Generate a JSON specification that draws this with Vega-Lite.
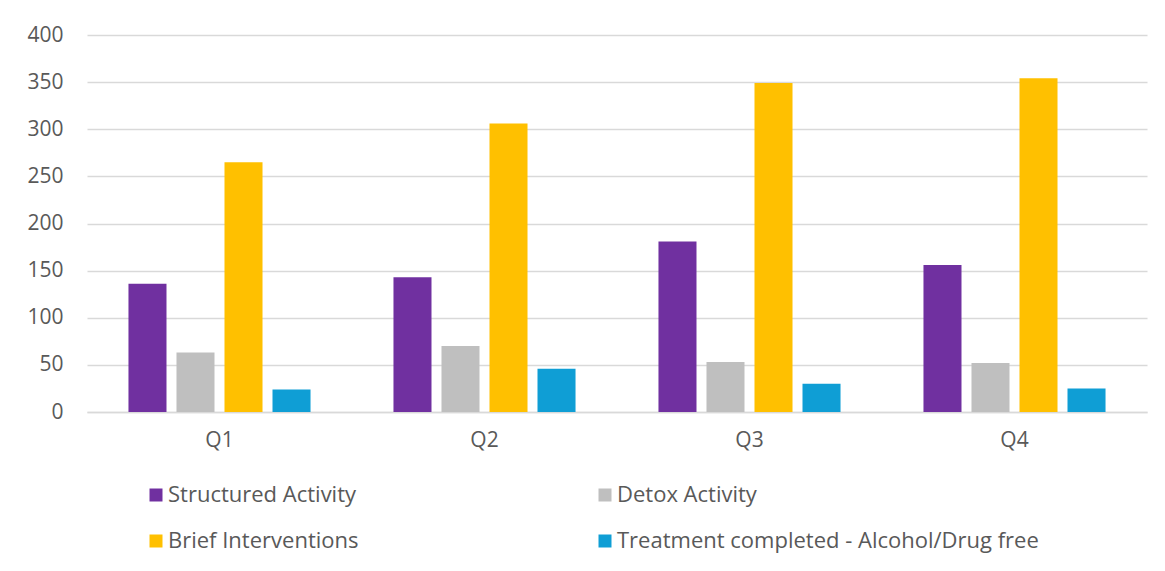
{
  "$schema": "https://vega.github.io/schema/vega-lite/v6.json",
  "autosize": {"type": "none"},
  "width": 1060,
  "height": 377,
  "padding": {"left": 87, "top": 35, "right": 18, "bottom": 159},
  "background": "white",
  "data": {
    "values": [
      {"quarter": "Q1", "series": "Structured Activity", "count": 136},
      {"quarter": "Q1", "series": "Detox Activity", "count": 63},
      {"quarter": "Q1", "series": "Brief Interventions", "count": 265},
      {"quarter": "Q1", "series": "Treatment completed - Alcohol/Drug free", "count": 24},
      {"quarter": "Q2", "series": "Structured Activity", "count": 143},
      {"quarter": "Q2", "series": "Detox Activity", "count": 70},
      {"quarter": "Q2", "series": "Brief Interventions", "count": 306},
      {"quarter": "Q2", "series": "Treatment completed - Alcohol/Drug free", "count": 46},
      {"quarter": "Q3", "series": "Structured Activity", "count": 181},
      {"quarter": "Q3", "series": "Detox Activity", "count": 53},
      {"quarter": "Q3", "series": "Brief Interventions", "count": 349},
      {"quarter": "Q3", "series": "Treatment completed - Alcohol/Drug free", "count": 30},
      {"quarter": "Q4", "series": "Structured Activity", "count": 156},
      {"quarter": "Q4", "series": "Detox Activity", "count": 52},
      {"quarter": "Q4", "series": "Brief Interventions", "count": 354},
      {"quarter": "Q4", "series": "Treatment completed - Alcohol/Drug free", "count": 25}
    ]
  },
  "mark": {"type": "bar"},
  "encoding": {
    "x": {
      "field": "quarter",
      "type": "nominal",
      "title": null,
      "scale": {"paddingInner": 0.313, "paddingOuter": 0.1565},
      "axis": {
        "labelAngle": 0,
        "labelFont": "Open Sans",
        "labelFontSize": 21,
        "labelColor": "#595959",
        "labelPadding": 17,
        "ticks": false,
        "domainColor": "#D9D9D9",
        "domainWidth": 1.5,
        "grid": false
      }
    },
    "xOffset": {
      "field": "series",
      "type": "nominal",
      "sort": ["Structured Activity", "Detox Activity", "Brief Interventions", "Treatment completed - Alcohol/Drug free"],
      "scale": {"paddingInner": 0.208, "paddingOuter": 0}
    },
    "y": {
      "field": "count",
      "type": "quantitative",
      "title": null,
      "scale": {"domain": [0, 400], "nice": false},
      "axis": {
        "values": [0, 50, 100, 150, 200, 250, 300, 350, 400],
        "labelFont": "Open Sans",
        "labelFontSize": 21,
        "labelColor": "#595959",
        "labelPadding": 24,
        "ticks": false,
        "domain": false,
        "gridColor": "#D9D9D9",
        "gridWidth": 1.5
      }
    },
    "color": {
      "field": "series",
      "type": "nominal",
      "sort": ["Structured Activity", "Detox Activity", "Brief Interventions", "Treatment completed - Alcohol/Drug free"],
      "scale": {
        "domain": ["Structured Activity", "Detox Activity", "Brief Interventions", "Treatment completed - Alcohol/Drug free"],
        "range": ["#7030A0", "#BFBFBF", "#FFC000", "#0F9ED5"]
      },
      "legend": {
        "title": null,
        "orient": "none",
        "direction": "horizontal",
        "legendX": 58,
        "legendY": 449,
        "columns": 2,
        "columnPadding": 235,
        "rowPadding": 24,
        "symbolType": "square",
        "symbolSize": 169,
        "symbolStrokeWidth": 0,
        "labelFont": "Open Sans",
        "labelFontSize": 22,
        "labelColor": "#595959",
        "labelOffset": 1,
        "labelLimit": 600
      }
    }
  },
  "config": {
    "view": {"stroke": null}
  }
}
